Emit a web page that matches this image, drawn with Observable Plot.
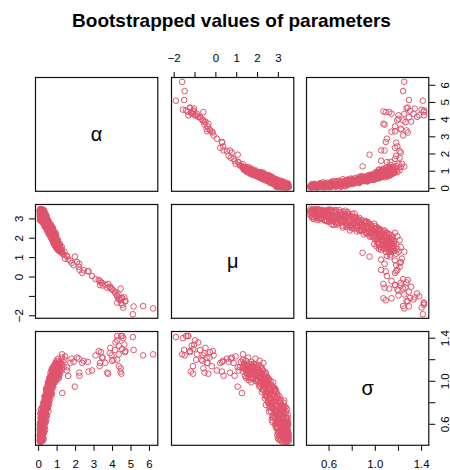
<!DOCTYPE html>
<html><head><meta charset="utf-8">
<script src="https://cdn.jsdelivr.net/npm/d3@7"></script>
<script src="https://cdn.jsdelivr.net/npm/@observablehq/plot@0.6"></script>
<style>
body{margin:0;background:#fff;}
#chart{position:relative;width:450px;height:470px;overflow:hidden;font-family:"Liberation Sans",Arial,sans-serif;}
#title{position:absolute;left:0;width:463px;top:11px;text-align:center;font-weight:bold;font-size:19px;line-height:19px;}
.panel{position:absolute;}
</style></head><body><div id="chart"><div id="title">Bootstrapped values of parameters</div></div>
<script>
// Bootstrapped parameter triplets (alpha, mu, sigma)
const alpha = [
0.07,0.07,0.07,0.08,0.08,0.09,0.10,0.10,0.11,0.12,0.12,0.13,0.14,0.15,0.15,0.16,0.17,0.18,0.18,0.19,0.20,0.21,0.22,0.22,0.23,0.24,0.25,0.26,0.27,0.28,
0.29,0.30,0.31,0.32,0.33,0.34,0.35,0.36,0.37,0.38,0.39,0.40,0.41,0.42,0.43,0.44,0.45,0.46,0.47,0.48,0.49,0.50,0.51,0.52,0.53,0.54,0.55,0.56,0.57,0.58,
0.59,0.60,0.61,0.62,0.63,0.64,0.65,0.66,0.67,0.68,0.69,0.70,0.71,0.72,0.73,0.74,0.75,0.76,0.78,0.79,0.80,0.81,0.82,0.83,0.84,0.85,0.86,0.87,0.88,0.89,
0.90,0.91,0.92,0.94,0.95,0.96,0.98,1.00,1.02,1.04,1.06,1.08,1.10,1.13,1.16,1.20,1.24,
0.07,0.08,0.09,0.11,0.13,0.14,0.16,0.17,0.19,0.20,0.21,0.23,0.24,0.25,0.26,0.28,0.29,0.30,0.32,0.33,0.35,0.36,0.38,0.39,0.41,0.42,0.44,0.45,0.47,0.48,
0.50,0.52,0.53,0.55,0.56,0.58,0.60,0.61,0.63,0.65,0.66,0.68,0.70,0.72,0.73,0.75,0.77,0.78,0.80,0.82,0.84,0.86,0.88,0.90,0.93,0.95,0.97,0.99,1.01,1.05,
1.09,1.12,1.18,0.07,0.08,0.10,0.12,0.15,0.18,0.27,0.31,0.34,0.40,0.46,
0.08,0.09,0.09,0.10,0.11,0.11,0.12,0.13,0.13,0.14,0.15,0.16,0.16,0.17,0.18,0.19,0.20,0.20,0.21,0.22,0.23,0.24,0.25,0.26,0.27,0.28,0.29,0.30,0.31,0.32,
0.33,0.34,0.35,0.36,0.37,0.38,0.39,0.40,0.41,0.42,0.43,0.44,0.45,0.46,0.47,0.48,0.49,0.50,0.51,0.52,0.53,0.54,0.55,0.56,0.57,0.58,0.59,0.60,0.61,0.62,
0.63,0.64,0.65,0.66,0.67,0.68,0.69,0.70,0.71,0.72,0.73,0.74,0.75,0.76,0.77,0.78,0.79,0.80,0.81,0.82,0.83,0.84,0.85,0.86,0.87,0.88,0.89,0.90,0.92,0.93,
0.94,0.96,0.97,0.99,1.01,1.03,1.05,1.07,1.09,1.11,1.14,1.17,1.22,1.26,1.30,1.35,0.95,1.05,1.15,1.25,1.40,0.92,
0.07,0.08,0.09,0.10,0.10,0.11,0.12,0.13,0.14,0.14,0.15,0.16,0.17,0.18,0.19,0.20,0.21,0.22,0.23,0.24,0.25,0.26,0.27,0.28,0.30,0.09,0.12,0.16,0.20,0.25,
0.35,0.40,0.50,
6.20,5.66,5.14,5.10,4.58,4.54,4.67,4.52,4.25,4.34,4.25,4.33,4.14,4.05,4.44,3.95,3.88,3.76,3.47,3.37,3.30,3.32,3.08,2.89,2.70,2.36,2.21,2.17,2.20,2.08,
1.89,1.78,1.72,1.96,1.53,1.43,1.60,1.28,4.48,1.09,1.27,1.54,2.44,2.66,3.25,3.43,3.61,3.71,3.97,4.16,4.46,4.64,4.70,4.34,4.43,4.25,3.85
];
const mu = [
3.45,3.40,3.10,3.50,2.95,3.30,3.42,3.20,3.05,3.47,3.35,2.98,3.40,3.15,3.48,3.28,2.92,3.44,3.08,3.38,3.22,3.42,3.00,3.45,3.25,2.85,3.40,3.12,2.78,3.30,
2.95,3.05,3.35,2.70,2.88,3.10,2.62,3.02,2.80,3.22,2.55,2.92,2.95,2.68,2.84,2.50,3.00,2.72,2.58,2.90,2.45,2.78,2.62,2.35,2.88,2.48,2.70,2.30,2.55,2.80,
2.40,2.20,2.65,2.48,2.28,2.58,2.12,2.40,2.70,2.22,2.50,2.05,2.35,2.60,2.15,2.42,1.98,2.28,2.52,2.08,2.38,1.90,2.20,1.78,2.02,2.30,1.85,1.70,2.10,1.95,
1.62,2.18,1.80,1.55,2.00,1.72,1.48,1.88,1.60,1.40,1.75,1.52,1.35,1.65,1.45,1.30,1.42,
3.25,3.43,3.02,3.50,3.30,3.08,3.43,3.18,2.88,3.48,3.12,3.40,3.05,2.75,3.28,2.98,3.42,2.82,3.15,2.60,3.28,2.88,2.65,3.05,2.78,2.52,3.12,2.62,2.85,2.38,
2.95,2.55,2.25,2.45,2.75,2.32,2.58,2.15,2.42,2.62,2.05,2.32,2.48,1.95,2.25,2.40,2.12,1.85,2.25,1.98,1.72,2.15,1.80,1.98,1.68,1.88,1.58,1.75,1.50,1.62,
1.45,1.55,1.38,3.38,3.15,2.90,3.45,2.95,3.35,3.46,2.92,2.72,3.20,2.40,
3.36,3.48,3.18,3.32,2.98,3.40,3.22,3.46,3.10,3.26,3.38,3.02,3.46,3.34,3.20,3.00,3.40,3.10,2.92,3.32,3.16,3.44,2.96,3.22,3.05,2.85,3.20,3.38,2.75,3.02,
3.25,2.85,2.95,3.15,2.68,2.98,2.82,2.62,3.08,2.88,2.60,2.75,2.92,2.55,2.70,2.52,2.82,2.42,2.68,2.80,2.50,2.35,2.60,2.42,2.72,2.18,2.52,2.38,2.45,2.25,
2.62,2.10,2.35,2.55,2.18,2.45,2.02,2.30,2.55,2.20,1.92,2.32,2.12,1.88,2.45,2.05,2.30,1.80,2.12,1.70,2.25,1.90,2.05,1.65,1.95,2.20,1.75,1.85,1.58,2.05,
1.78,1.50,1.90,1.65,1.82,1.45,1.70,1.38,1.60,1.48,1.32,1.55,1.35,1.28,1.20,1.15,2.10,1.90,1.70,1.55,1.30,2.28,
3.30,3.22,3.44,3.05,3.38,3.18,3.28,3.48,2.95,3.35,3.25,3.12,3.45,2.98,3.28,3.05,3.36,3.18,2.90,3.30,3.12,3.42,2.95,3.18,3.28,3.12,2.92,3.38,2.88,3.36,
3.05,2.85,2.75,
-1.62,-1.50,-1.52,-1.92,-1.58,-1.43,-1.24,-1.08,-1.32,-1.16,-1.00,-0.90,-0.76,-0.70,-0.60,-0.60,-0.50,-0.36,-0.44,-0.28,-0.20,-0.42,-0.11,0.05,0.29,0.21,0.37,0.53,0.68,0.77,
0.61,0.72,0.85,1.05,1.09,0.95,0.90,1.25,-1.10,1.45,1.30,1.05,0.35,0.30,-0.15,-0.30,-0.40,-0.55,-0.65,-0.85,-1.35,-1.05,-1.25,-1.10,-1.20,-0.95,-0.55
];
const sigma = [
0.45,0.46,0.55,0.44,0.50,0.58,0.47,0.45,0.62,0.52,0.44,0.66,0.55,0.49,0.60,0.63,0.56,0.45,0.70,0.51,0.58,0.64,0.52,0.69,0.72,0.60,0.56,0.47,0.74,0.66,
0.81,0.53,0.76,0.67,0.58,0.83,0.78,0.70,0.86,0.62,0.72,0.77,0.88,0.64,0.92,0.82,0.68,0.88,0.75,0.91,0.86,0.80,0.97,0.84,0.72,0.93,0.87,0.99,0.79,0.91,
1.02,0.90,0.83,1.00,0.95,0.90,1.03,0.86,0.96,1.06,0.94,0.98,1.04,0.88,1.08,0.98,1.02,1.10,1.01,0.95,1.07,1.09,1.12,1.03,1.00,1.06,1.13,0.99,1.09,1.15,
1.07,1.03,1.11,1.04,1.13,1.16,1.09,1.08,1.12,1.05,1.14,1.10,1.16,1.06,1.13,1.09,1.15,
0.50,0.55,0.46,0.48,0.53,0.45,0.58,0.66,0.62,0.50,0.60,0.48,0.76,0.66,0.58,0.63,0.52,0.70,0.74,0.80,0.55,0.79,0.72,0.82,0.68,0.90,0.74,0.84,0.90,0.94,
0.76,0.88,0.96,1.00,0.82,0.92,0.97,1.00,0.88,0.93,1.05,0.97,1.03,1.06,0.93,1.08,1.00,1.10,0.97,1.05,1.11,1.14,1.06,1.02,1.13,1.10,1.01,1.14,1.15,1.08,
1.03,1.15,1.12,0.44,0.60,0.58,0.62,0.57,0.70,0.62,0.86,0.62,0.70,0.78,
0.48,0.51,0.53,0.62,0.52,0.57,0.47,0.49,0.65,0.60,0.44,0.61,0.54,0.62,0.55,0.68,0.60,0.50,0.72,0.55,0.66,0.58,0.70,0.77,0.60,0.78,0.68,0.62,0.75,0.65,
0.80,0.72,0.62,0.77,0.80,0.85,0.66,0.85,0.80,0.74,0.76,0.94,0.84,0.92,0.80,0.84,0.86,0.96,0.76,0.94,0.80,0.98,0.92,0.86,0.88,1.03,0.95,0.88,1.04,0.92,
1.00,1.08,0.94,1.02,0.97,0.90,1.10,1.01,0.95,1.12,1.00,1.06,0.96,1.06,1.04,1.12,1.00,1.02,1.05,1.14,1.09,1.07,1.15,1.03,1.11,1.04,1.10,1.16,1.09,1.07,
1.02,1.12,1.05,1.10,1.16,1.08,1.03,1.13,1.16,1.07,1.14,1.10,1.17,1.12,1.18,1.13,1.19,1.21,1.18,1.22,1.20,1.17,
0.49,0.56,0.60,0.50,0.66,0.44,0.70,0.46,0.60,0.64,0.74,0.57,0.66,0.47,0.76,0.64,0.72,0.52,0.68,0.45,0.80,0.74,0.56,0.71,0.82,0.70,0.74,0.50,0.58,0.47,
0.86,0.93,0.99,
1.25,1.24,1.29,1.41,1.40,1.42,1.27,1.30,1.42,1.33,1.38,1.25,1.29,1.20,1.12,1.24,1.31,1.07,1.22,1.27,1.14,1.17,1.24,1.10,1.09,1.17,1.05,1.21,1.08,1.22,
1.18,1.21,1.17,0.95,1.10,1.23,1.05,0.89,1.07,1.19,1.25,1.13,1.19,1.18,1.28,1.22,1.17,1.08,1.19,1.36,1.42,1.34,1.28,1.14,1.09,1.20,1.26
];
const varNames = ["α", "μ", "σ"];
const varKeys = ["alpha", "mu", "sigma"];
const alphaTicks = [0, 1, 2, 3, 4, 5, 6];
const alphaTickLabels = ["0", "1", "2", "3", "4", "5", "6"];
const muTicks = [-2, -1, 0, 1, 2, 3];
const muTickLabels = ["−2", "", "0", "1", "2", "3"];
const sigmaTicks = [0.6, 0.8, 1.0, 1.2, 1.4];
const sigmaTickLabels = ["0.6", "", "1.0", "", "1.4"];
const domains = [[-0.17, 6.45], [-2.13, 3.74], [0.405, 1.462]];
const tickSets = [alphaTicks, muTicks, sigmaTicks];
const labelSets = [alphaTickLabels, muTickLabels, sigmaTickLabels];

const rows = alpha.map((a, i) => ({alpha: a, mu: mu[i], sigma: sigma[i]}));

const colLeft = [34.7, 170.7, 306], rowTop = [76.7, 203.5, 331];
const W = 122.3, H = 113.8, M = 40;
const FONT = "'Liberation Sans', Arial, sans-serif";
const chart = document.getElementById("chart");
const fmt = k => (t => labelSets[k][tickSets[k].indexOf(t)]);

for (let i = 0; i < 3; i++) {
  for (let j = 0; j < 3; j++) {
    const marks = [];
    if (i === j) {
      marks.push(Plot.text([varNames[i]], {frameAnchor: "middle", text: d => d, fontSize: 20, fill: "black"}));
    } else {
      marks.push(Plot.dot(rows, {x: varKeys[j], y: varKeys[i], r: 2.8, stroke: "#DF536B", strokeWidth: 1, fill: "none"}));
    }
    marks.push(Plot.frame({stroke: "#111", strokeWidth: 1.2}));
    if (i === 0 && j % 2 === 1)
      marks.push(Plot.axisX({anchor: "top", ticks: tickSets[j], tickFormat: fmt(j), tickSize: 6, tickPadding: 9, label: null, fontSize: 11.5}));
    if (i === 2 && j % 2 === 0)
      marks.push(Plot.axisX({anchor: "bottom", ticks: tickSets[j], tickFormat: fmt(j), tickSize: 6, tickPadding: 9, label: null, fontSize: 11.5}));
    if (j === 0 && i % 2 === 1)
      marks.push(Plot.axisY({anchor: "left", ticks: tickSets[i], tickFormat: fmt(i), tickSize: 6, tickPadding: 6, tickRotate: -90, textAnchor: "middle", lineAnchor: "bottom", label: null, fontSize: 11.5}));
    if (j === 2 && i % 2 === 0)
      marks.push(Plot.axisY({anchor: "right", ticks: tickSets[i], tickFormat: fmt(i), tickSize: 6, tickPadding: 6, tickRotate: -90, textAnchor: "middle", lineAnchor: "top", label: null, fontSize: 11.5}));
    const svg = Plot.plot({
      width: W + 2 * M, height: H + 2 * M, margin: M,
      x: {domain: domains[j], axis: null},
      y: {domain: domains[i], axis: null},
      style: {background: "transparent", fontFamily: FONT, fontSize: "11.5px", overflow: "visible", color: "black"},
      marks
    });
    const div = document.createElement("div");
    div.className = "panel";
    div.style.left = (colLeft[j] - M) + "px";
    div.style.top = (rowTop[i] - M) + "px";
    div.style.width = (W + 2 * M) + "px";
    div.appendChild(svg);
    chart.appendChild(div);
  }
}
</script></body></html>
